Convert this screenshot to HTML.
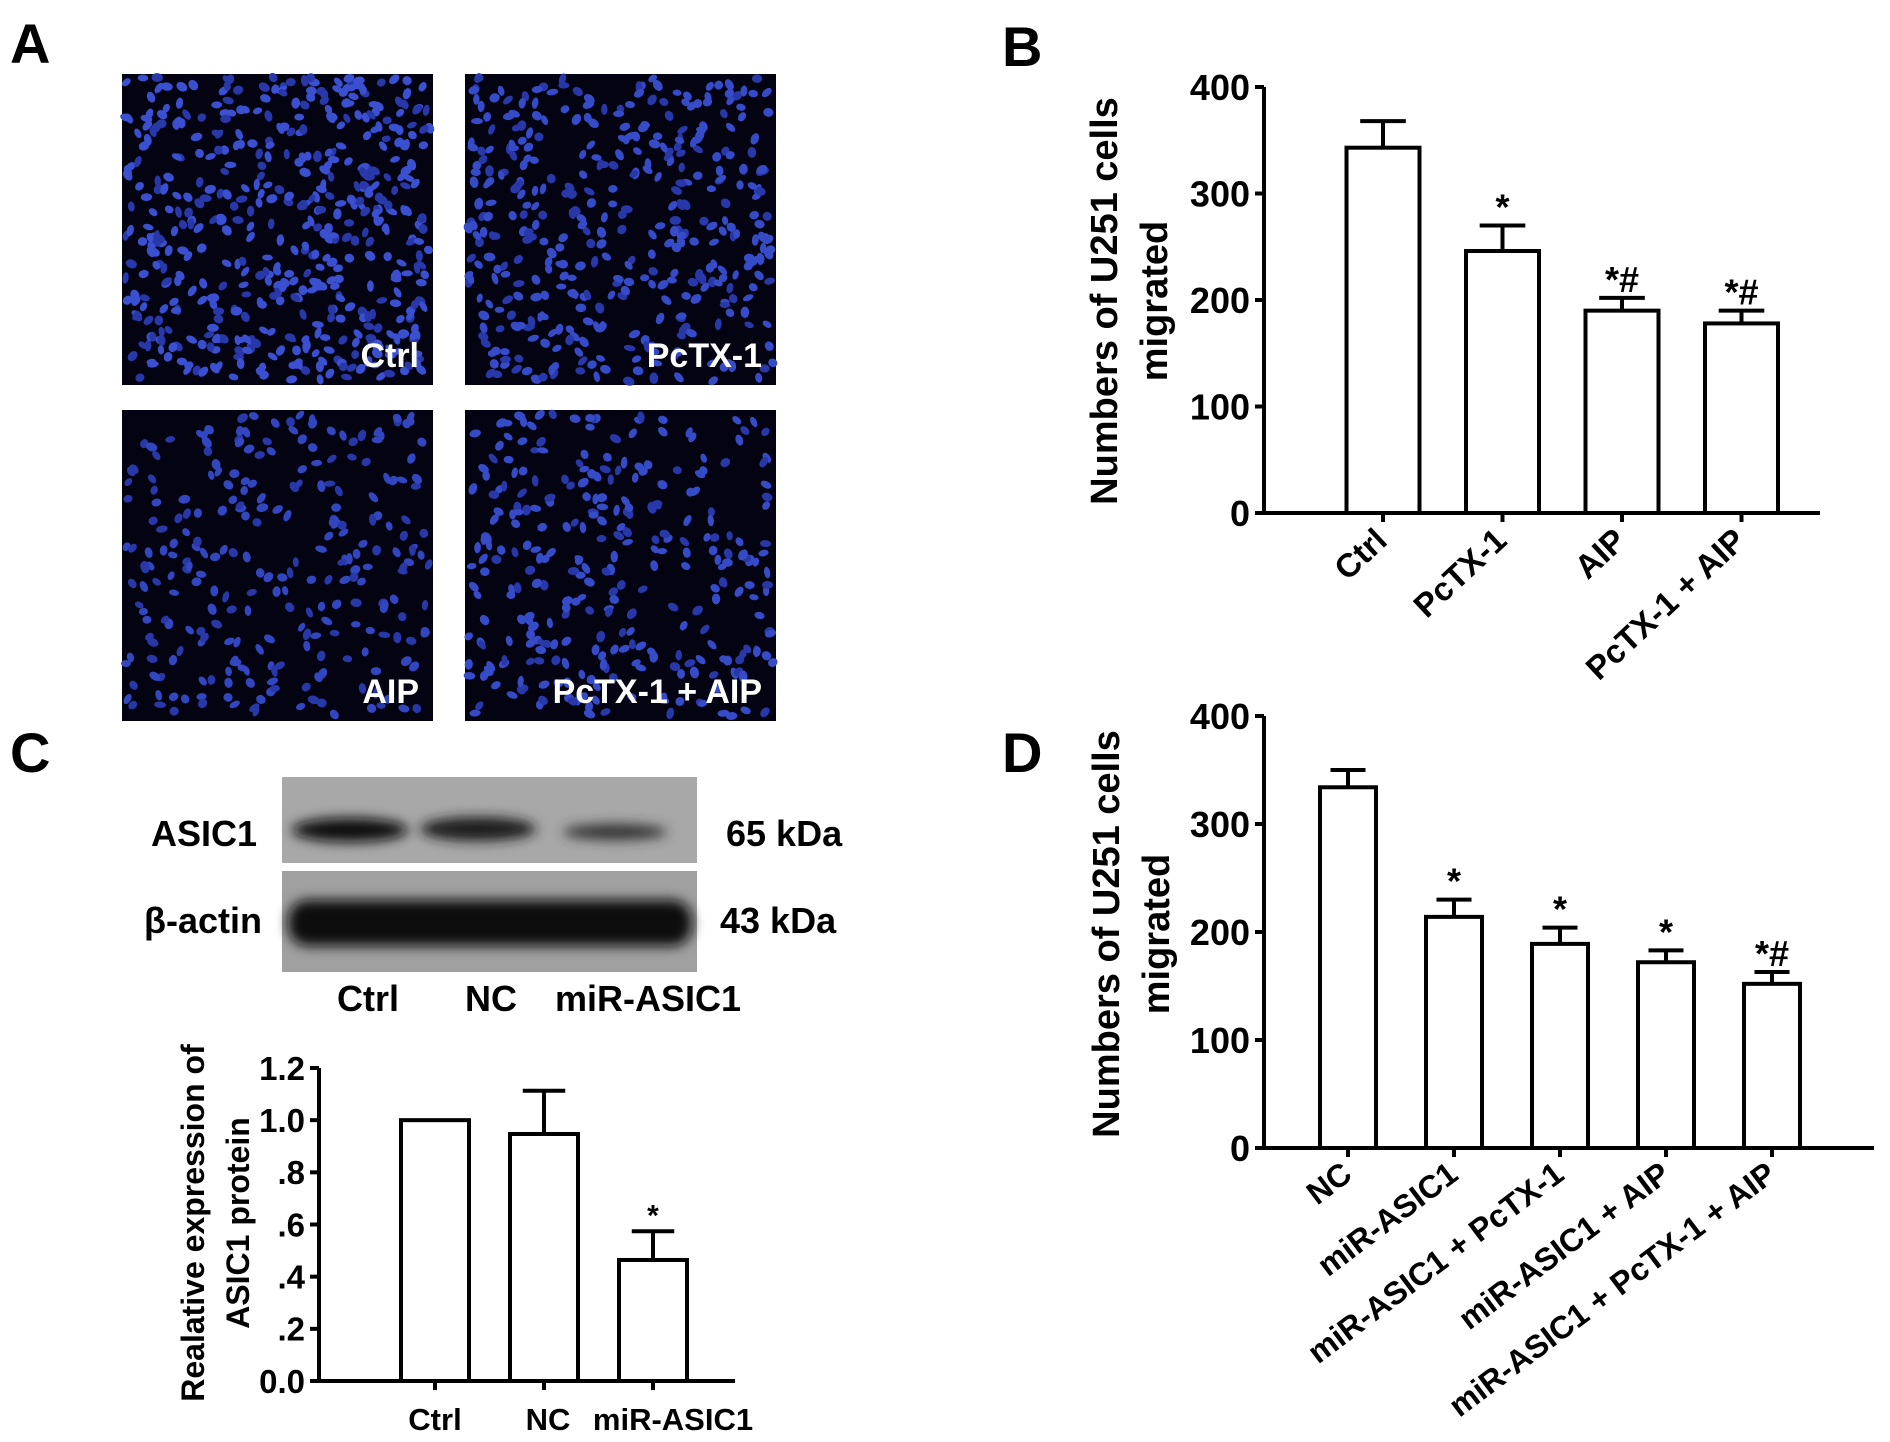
<!DOCTYPE html>
<html><head><meta charset="utf-8"><style>
html,body{margin:0;padding:0;background:#fff;overflow:hidden;}
svg{display:block;font-family:"Liberation Sans",Arial,sans-serif;font-weight:bold;}
</style></head><body>
<svg id="fig" width="1890" height="1442" viewBox="0 0 1890 1442" xmlns="http://www.w3.org/2000/svg">
<defs>
<filter id="blur6" x="-20%" y="-50%" width="140%" height="200%"><feGaussianBlur stdDeviation="6"/></filter>
</defs>
<text x="10" y="63" font-size="56">A</text>
<text x="1002" y="66" font-size="56">B</text>
<text x="10" y="772" font-size="56">C</text>
<text x="1002" y="772" font-size="56">D</text>

<g id="panelA"></g>

<g>
  <rect x="282" y="777" width="415" height="86" fill="#a8a8a8"/>
  <rect x="282" y="871" width="415" height="101" fill="#a0a0a0"/>
  <g filter="url(#blur6)">
    <ellipse cx="350" cy="830" rx="58" ry="12" fill="#111"/>
    <ellipse cx="478" cy="829" rx="58" ry="12" fill="#1a1a1a"/>
    <ellipse cx="615" cy="832" rx="52" ry="8" fill="#333"/>
    <rect x="288" y="900" width="404" height="46" rx="20" fill="#0c0c0c"/>
  </g>
  <text x="257" y="846" font-size="36" text-anchor="end">ASIC1</text>
  <text x="262" y="933" font-size="36" text-anchor="end">β-actin</text>
  <text x="726" y="846" font-size="36">65 kDa</text>
  <text x="720" y="933" font-size="36">43 kDa</text>
  <text x="368" y="1011" font-size="36" text-anchor="middle">Ctrl</text>
  <text x="491" y="1011" font-size="36" text-anchor="middle">NC</text>
  <text x="648" y="1011" font-size="36" text-anchor="middle">miR-ASIC1</text>
</g>

<g id="chartB"></g>
<g id="chartC"></g>
<g id="chartD"></g>
</svg>
<script>
// ---- Chart B data ----
const bCategories = ["Ctrl", "PcTX-1", "AIP", "PcTX-1 + AIP"];
const bValues = [343, 246, 190, 178];
const bErrors = [25, 24, 12, 12];
const bMarks = ["", "*", "*#", "*#"];
const bTicks = [0, 100, 200, 300, 400];
// ---- Chart C data ----
const cCategories = ["Ctrl", "NC", "miR-ASIC1"];
const cValues = [1.0, 0.947, 0.464];
const cErrors = [0, 0.166, 0.11];
const cMarks = ["", "", "*"];
const cTicks = [0, 0.2, 0.4, 0.6, 0.8, 1.0, 1.2];
const cTickLabels = ["0.0", ".2", ".4", ".6", ".8", "1.0", "1.2"];
// ---- Chart D data ----
const dCategories = ["NC", "miR-ASIC1", "miR-ASIC1 + PcTX-1", "miR-ASIC1 + AIP", "miR-ASIC1 + PcTX-1 + AIP"];
const dValues = [334, 214, 189, 172, 152];
const dErrors = [16, 16, 15, 11, 11];
const dMarks = ["", "*", "*", "*", "*#"];
const dTicks = [0, 100, 200, 300, 400];

const NS = "http://www.w3.org/2000/svg";
function mk(tag, attrs, parent) {
  const e = document.createElementNS(NS, tag);
  for (const k in attrs) e.setAttribute(k, attrs[k]);
  parent.appendChild(e);
  return e;
}

function drawChart(g, cfg) {
  const yS = v => cfg.y0 - (v - cfg.vmin) / (cfg.vmax - cfg.vmin) * (cfg.y0 - cfg.y1);
  const xS = i => cfg.xFirst + i * cfg.step;
  const ya = mk("line", {x1: cfg.ax, y1: cfg.y1, x2: cfg.ax, y2: cfg.y0 + 2, stroke: "#000", "stroke-width": 4}, g);
  
  
  const xa = mk("line", {x1: cfg.ax - 2, y1: cfg.y0, x2: cfg.xEnd, y2: cfg.y0, stroke: "#000", "stroke-width": 4}, g);
  
  
  cfg.ticks.forEach((t, i) => {
    const y = yS(t);
    const tk = mk("line", {x1: cfg.ax - 9, y1: y, x2: cfg.ax, y2: y, stroke: "#000", "stroke-width": 4}, g);
    
    
    const tl = mk("text", {x: cfg.ax - 14, y: y + cfg.tickFont * 0.36, "font-size": cfg.tickFont, "text-anchor": "end"}, g);
    tl.textContent = cfg.tickLabels ? cfg.tickLabels[i] : String(t);
    
    
  });
  cfg.cats.forEach((c, i) => {
    const cx = xS(i);
    const top = yS(cfg.vals[i]);
    const bar = mk("rect", {x: cx - cfg.bw / 2, y: top, width: cfg.bw, height: cfg.y0 - top, fill: "#fff", stroke: "#000", "stroke-width": 4}, g);
    
    
    if (cfg.errs[i] > 0) {
      const et = yS(cfg.vals[i] + cfg.errs[i]);
      const e1 = mk("line", {x1: cx, y1: top, x2: cx, y2: et, stroke: "#000", "stroke-width": 4}, g);
      
      
      const e2 = mk("line", {x1: cx - cfg.bw / 3.2, y1: et, x2: cx + cfg.bw / 3.2, y2: et, stroke: "#000", "stroke-width": 4}, g);
      
      
    }
    if (cfg.marks[i]) {
      const et = yS(cfg.vals[i] + cfg.errs[i]);
      const m = mk("text", {x: cx, y: et - 6, "font-size": cfg.markFont, "text-anchor": "middle"}, g);
      m.textContent = cfg.marks[i];
      
      
    }
    const xt = mk("line", {x1: cx, y1: cfg.y0, x2: cx, y2: cfg.y0 + 9, stroke: "#000", "stroke-width": 4}, g);
    
    
    let lab;
    if (cfg.rot) {
      const lx = cx + 6, ly = cfg.y0 + 30;
      lab = mk("text", {x: lx, y: ly, "font-size": cfg.labFont, "text-anchor": "end", transform: `rotate(${cfg.rot} ${lx} ${ly})`}, g);
    } else {
      const shift = cfg.labShift ? cfg.labShift[i] : 0;
      lab = mk("text", {x: cx + shift, y: cfg.y0 + 49, "font-size": cfg.labFont, "text-anchor": "middle"}, g);
    }
    lab.textContent = c;
    
    
  });
  cfg.title.forEach((t, i) => {
    const tx = cfg.titleX[i], ty = cfg.titleY;
    const tt = mk("text", {x: tx, y: ty, "font-size": cfg.titleFont, "text-anchor": "middle", transform: `rotate(-90 ${tx} ${ty})`, "dominant-baseline": "central"}, g);
    tt.textContent = t;
    
    
  });
}

drawChart(document.getElementById("chartB"), {
  cats: bCategories, vals: bValues, errs: bErrors, marks: bMarks, ticks: bTicks,
  vmin: 0, vmax: 400, y0: 513, y1: 87, ax: 1264, xEnd: 1820, xFirst: 1383, step: 119.5, bw: 73,
  tickFont: 36, labFont: 33, markFont: 36, rot: -43,
  title: ["Numbers of U251 cells", "migrated"], titleX: [1105, 1155], titleY: 301, titleFont: 38
});
drawChart(document.getElementById("chartC"), {
  cats: cCategories, vals: cValues, errs: cErrors, marks: cMarks, ticks: cTicks, tickLabels: cTickLabels,
  vmin: 0, vmax: 1.2, y0: 1381, y1: 1068, ax: 319, xEnd: 735, xFirst: 435, step: 109, bw: 68,
  tickFont: 33, labFont: 31, markFont: 30, rot: 0, labShift: [0, 4, 20],
  title: ["Realative expression of", "ASIC1 protein"], titleX: [193, 238], titleY: 1223, titleFont: 32
});
drawChart(document.getElementById("chartD"), {
  cats: dCategories, vals: dValues, errs: dErrors, marks: dMarks, ticks: dTicks,
  vmin: 0, vmax: 400, y0: 1148, y1: 716, ax: 1264, xEnd: 1874, xFirst: 1348, step: 106, bw: 56,
  tickFont: 36, labFont: 32, markFont: 36, rot: -37,
  title: ["Numbers of U251 cells", "migrated"], titleX: [1107, 1157], titleY: 934, titleFont: 38
});

// ---- Panel A micrographs (decorative texture) ----
(function () {
  const g = document.getElementById("panelA");
  const panels = [
    {x: 122, y: 74, label: "Ctrl", n: 520, c: "#3a50d0"},
    {x: 465, y: 74, label: "PcTX-1", n: 400, c: "#364bc8"},
    {x: 122, y: 410, label: "AIP", n: 260, c: "#3246c0"},
    {x: 465, y: 410, label: "PcTX-1 + AIP", n: 300, c: "#364bc8"}
  ];
  let seed = 12345;
  const rnd = () => { seed = (seed * 1103515245 + 12345) % 2147483648; return seed / 2147483648; };
  const W = 311, H = 311;
  panels.forEach(p => {
    const r = mk("rect", {x: p.x, y: p.y, width: W, height: H, fill: "#030312"}, g);
    
    
    const cells = mk("g", {}, g);
    for (let i = 0; i < p.n; i++) {
      const cx = p.x + 3 + rnd() * (W - 6), cy = p.y + 3 + rnd() * (H - 6);
      mk("ellipse", {cx: cx, cy: cy, rx: 3 + rnd() * 1.5, ry: 4.5 + rnd() * 1.5, transform: `rotate(${rnd() * 180} ${cx} ${cy})`, fill: rnd() > 0.35 ? p.c : "#2838a8"}, cells);
    }
    const t = mk("text", {x: p.x + W - 14, y: p.y + H - 18, "font-size": 34, fill: "#fff", "text-anchor": "end"}, g);
    t.textContent = p.label;
    
    
  });
})();
</script>
</body></html>
